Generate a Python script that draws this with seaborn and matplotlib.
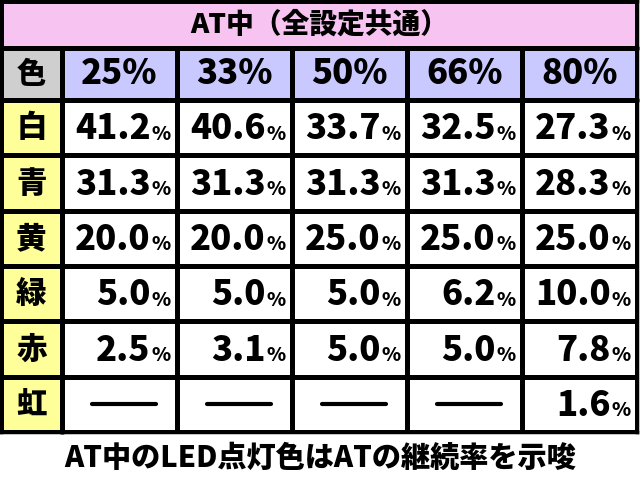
import numpy as np
import matplotlib
matplotlib.use("Agg")
import matplotlib.pyplot as plt
import seaborn as sns
from matplotlib.colors import ListedColormap

sns.set_theme(style="white")
plt.rcParams['font.family'] = ['Noto Sans CJK JP', 'DejaVu Sans']

title = "AT中（全設定共通）"
caption = "AT中のLED点灯色はATの継続率を示唆"
rates = ["25%", "33%", "50%", "66%", "80%"]
colors = ["白", "青", "黄", "緑", "赤", "虹"]
values = [
    ["41.2", "40.6", "33.7", "32.5", "27.3"],
    ["31.3", "31.3", "31.3", "31.3", "28.3"],
    ["20.0", "20.0", "25.0", "25.0", "25.0"],
    ["5.0", "5.0", "5.0", "6.2", "10.0"],
    ["2.5", "3.1", "5.0", "5.0", "7.8"],
    [None, None, None, None, "1.6"],
]

W, H = 640, 482
fig = plt.figure(figsize=(W / 100, H / 100), dpi=100)
fig.patch.set_facecolor("white")


def box(x0, y0, x1, y1):
    return [x0 / W, 1 - y1 / H, (x1 - x0) / W, (y1 - y0) / H]


def grid(ax, shape, color):
    sns.heatmap(np.zeros(shape), cmap=ListedColormap([color]), cbar=False,
                linewidths=2.5, linecolor="black", xticklabels=False,
                yticklabels=False, ax=ax)
    for s in ax.spines.values():
        s.set_visible(True)
        s.set_color("black")
        s.set_linewidth(2.5)


bold = dict(fontweight="black", color="black")

# title bar
ax_t = fig.add_axes(box(1, 1, 637, 48))
grid(ax_t, (1, 1), "#f7c4f2")
ax_t.text(0.5, 0.5, title, ha="center", va="center", fontsize=20, **bold)

# corner
ax_c = fig.add_axes(box(1, 48, 62, 100))
grid(ax_c, (1, 1), "#cfcfcf")
ax_c.text(0.5, 0.5, "色", ha="center", va="center", fontsize=21, **bold)

# header
ax_h = fig.add_axes(box(62, 48, 637, 100))
grid(ax_h, (1, len(rates)), "#c9c9ff")
for j, r in enumerate(rates):
    ax_h.text(j + 0.5, 0.5, r, ha="center", va="center", fontsize=25, **bold)

# first column
ax_l = fig.add_axes(box(1, 100, 62, 432))
grid(ax_l, (len(colors), 1), "#ffff99")
for i, c in enumerate(colors):
    ax_l.text(0.5, i + 0.5, c, ha="center", va="center", fontsize=22, **bold)

# body
ax_b = fig.add_axes(box(62, 100, 637, 432))
grid(ax_b, (len(colors), len(rates)), "white")
for i, row in enumerate(values):
    for j, v in enumerate(row):
        if v is None:
            ax_b.plot([j + 0.26, j + 0.82], [i + 0.5, i + 0.5], color="black", lw=3)
        else:
            ax_b.text(j + 0.77, i + 0.52, v, ha="right", va="center", fontsize=25, **bold)
            ax_b.text(j + 0.78, i + 0.62, "%", ha="left", va="center", fontsize=14, **bold)

fig.text(0.5, 1 - 458 / H, caption, ha="center", va="center", fontsize=21, **bold)

fig.savefig("out.png", dpi=100)
